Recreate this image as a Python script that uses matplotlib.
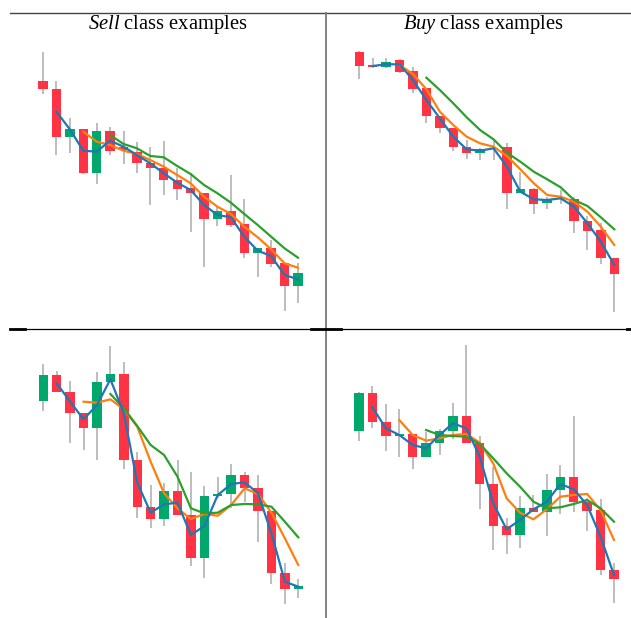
import numpy as np
import matplotlib.pyplot as plt

# ---- candle data (arbitrary price units) ----
# top-left: Sell example 1
s1_open  = [249.3, 241.3, 192.7, 201.0, 156.7, 199.0, 183.0, 178.3, 167.3, 161.7,
            150.0, 141.7, 136.7, 111.0, 119.3, 106.0, 77.3, 81.7, 66.7, 44.3]
s1_high  = [278.3, 249.3, 211.7, 201.0, 207.3, 202.7, 199.0, 188.3, 183.3, 189.3,
            161.7, 156.7, 137.3, 123.3, 155.0, 130.7, 81.7, 90.0, 66.7, 66.7]
s1_low   = [236.0, 175.0, 176.7, 156.0, 146.0, 175.0, 166.0, 156.7, 125.0, 135.0,
            130.0, 98.3, 62.7, 104.0, 103.3, 71.7, 52.7, 63.3, 19.3, 27.3]
s1_close = [240.7, 192.7, 201.0, 156.7, 199.0, 179.3, 180.0, 166.7, 161.7, 150.0,
            141.0, 136.7, 111.0, 119.3, 105.0, 77.3, 81.7, 66.0, 44.3, 56.7]
s1_ma_fast = [218.3, 200.7, 179.3, 178.3, 189.3, 183.3, 175.0, 166.7, 156.7, 147.3,
              140.0, 125.0, 115.0, 112.7, 93.3, 79.3, 74.0, 55.0, 50.7]
s1_ma_mid  = [198.3, 188.3, 185.0, 179.3, 176.0, 170.0, 163.3, 155.0, 146.7, 133.3,
              123.3, 116.0, 103.3, 92.7, 80.7, 66.7, 62.3]
s1_ma_slow = [195.0, 186.0, 181.7, 174.0, 172.7, 164.0, 156.0, 145.0, 136.7, 127.3,
              116.0, 105.0, 93.3, 81.7, 72.3]

# top-right: Buy example 1
b1_open  = [278.3, 264.7, 263.3, 270.0, 259.0, 241.7, 214.3, 201.7, 183.3, 176.7,
            181.0, 182.7, 136.7, 141.0, 126.7, 130.7, 131.0, 109.3, 100.0, 72.3]
b1_high  = [279.0, 272.3, 272.3, 270.7, 263.3, 241.7, 214.3, 201.7, 190.0, 181.7,
            190.0, 186.7, 158.3, 141.7, 132.7, 140.0, 132.7, 114.0, 107.3, 72.3]
b1_low   = [250.7, 261.7, 261.7, 257.3, 236.7, 207.3, 197.3, 179.3, 170.7, 170.0,
            170.0, 120.7, 136.7, 116.0, 120.7, 126.0, 96.7, 80.0, 66.0, 18.3]
b1_close = [264.3, 263.3, 268.3, 258.3, 241.0, 214.0, 201.7, 183.3, 176.7, 181.0,
            182.3, 136.7, 141.0, 126.0, 130.7, 131.3, 109.3, 99.3, 72.3, 56.0]
b1_ma_fast = [264.0, 265.7, 265.7, 250.0, 230.0, 211.7, 193.3, 180.7, 179.3, 181.7,
              163.3, 138.3, 130.7, 130.0, 131.7, 123.3, 106.7, 88.3, 65.0]
b1_ma_mid  = [265.0, 256.0, 240.7, 218.3, 205.0, 193.3, 186.7, 183.3, 174.0, 160.7,
              146.7, 135.0, 133.3, 128.3, 118.3, 103.3, 85.0]
b1_ma_slow = [252.3, 240.0, 226.7, 212.7, 200.0, 190.7, 177.3, 168.3, 158.3, 150.7,
              142.7, 130.0, 124.0, 112.7, 100.7]

# bottom-left: Sell example 2
s2_open  = [229.3, 255.0, 238.3, 217.3, 201.7, 247.7, 256.0, 170.0, 122.7, 111.0,
            139.0, 115.0, 72.3, 134.0, 135.7, 155.0, 141.7, 119.3, 56.7, 40.7]
s2_high  = [266.0, 259.3, 249.0, 217.3, 258.3, 284.0, 268.3, 178.3, 145.0, 146.7,
            170.0, 158.3, 144.3, 153.3, 166.0, 158.3, 155.0, 119.3, 67.3, 50.7]
s2_low   = [219.3, 238.3, 187.3, 180.0, 170.0, 247.7, 161.0, 111.7, 101.7, 104.0,
            115.0, 64.0, 52.3, 131.7, 121.7, 128.3, 88.3, 46.0, 26.0, 31.7]
s2_close = [255.0, 238.3, 217.3, 201.7, 247.7, 256.0, 170.0, 122.7, 111.0, 139.0,
            115.0, 72.3, 134.0, 135.7, 155.0, 141.7, 119.3, 56.7, 40.7, 44.3]
s2_ma_fast = [246.7, 228.3, 210.7, 225.0, 250.7, 216.7, 147.3, 117.3, 125.7, 127.3,
              95.0, 104.0, 135.0, 146.0, 147.7, 136.7, 96.7, 48.3, 43.3]
s2_ma_mid  = [228.3, 227.3, 230.7, 220.7, 203.3, 168.3, 136.7, 121.7, 111.0, 116.0,
              114.3, 125.0, 141.7, 136.0, 117.3, 91.7, 65.0]
s2_ma_slow = [236.0, 221.7, 204.0, 185.0, 175.0, 153.3, 121.7, 116.7, 117.3, 125.0,
              126.0, 125.7, 123.3, 108.3, 92.7]

# bottom-right: Buy example 2
b2_open  = [199.3, 237.3, 208.3, 194.0, 196.0, 173.3, 186.7, 199.3, 214.3, 187.3,
            146.0, 104.3, 95.0, 121.7, 118.3, 140.0, 153.3, 128.3, 120.0, 60.0]
b2_high  = [238.3, 244.0, 226.0, 221.0, 196.0, 198.3, 200.7, 226.7, 285.0, 194.0,
            163.3, 111.7, 134.0, 135.0, 156.0, 165.0, 214.0, 131.7, 130.7, 66.7]
b2_low   = [189.3, 202.3, 179.0, 173.3, 160.7, 173.3, 175.0, 190.7, 187.3, 120.7,
            80.0, 76.0, 82.3, 118.3, 94.0, 116.0, 118.3, 99.0, 55.0, 26.7]
b2_close = [237.3, 207.7, 194.0, 196.0, 173.3, 187.3, 199.3, 214.3, 187.3, 146.0,
            104.3, 95.0, 121.7, 118.3, 140.0, 153.3, 128.3, 119.3, 60.0, 51.0]
b2_ma_fast = [222.7, 201.7, 195.0, 185.0, 181.7, 195.0, 206.7, 201.7, 173.3, 126.7,
              100.7, 110.0, 120.7, 128.3, 146.0, 140.7, 125.0, 93.3, 55.0]
b2_ma_mid  = [210.0, 195.0, 189.3, 191.7, 195.0, 196.0, 187.3, 166.7, 131.7, 117.3,
              110.7, 120.7, 133.3, 135.0, 136.0, 120.0, 90.0]
b2_ma_slow = [200.0, 195.0, 194.0, 193.3, 186.0, 171.7, 156.7, 143.3, 128.3, 121.7,
              122.7, 126.0, 130.0, 121.7, 108.3]

titles = [r"$\mathit{Sell}$ class examples", r"$\mathit{Buy}$ class examples"]

UP = "#00a86b"
DOWN = "#ff3344"
WICK = "#b8b8b8"

plt.rcParams["mathtext.fontset"] = "custom"
plt.rcParams["mathtext.rm"] = "Liberation Serif"
plt.rcParams["mathtext.it"] = "Liberation Serif:italic"

W, H = 631, 618
fig = plt.figure(figsize=(W / 100, H / 100), dpi=100)


def candles(ax, o, h, l, c, ma_fast, ma_mid, ma_slow):
    o, h, l, c = map(np.array, (o, h, l, c))
    x = np.arange(len(o))
    colors = np.where(c >= o, UP, DOWN)
    ax.vlines(x, l, h, color=WICK, lw=1.3, zorder=1)
    bottom = np.minimum(o, c)
    height = np.maximum(np.abs(c - o), 1.2)
    ax.bar(x, height, bottom=bottom, width=0.7, color=colors, zorder=2)
    ax.plot(np.arange(1, 20), ma_fast, color="#1f77b4", lw=1.6, zorder=4)
    ax.plot(np.arange(3, 20), ma_mid, color="#ff7f0e", lw=1.6, zorder=3)
    ax.plot(np.arange(5, 20), ma_slow, color="#2ca02c", lw=1.6, zorder=3)


def add_panel(left_px, first_px, top_px, base, panel):
    # axes covering 281 x 280 px; prices map 1:1 to pixels
    step = 13.42
    ax = fig.add_axes([left_px / W, (H - top_px - 280) / H, 281 / W, 280 / H])
    ax.set_xlim((left_px - first_px) / step, (left_px + 281 - first_px) / step)
    y0 = base - (top_px + 280)
    ax.set_ylim(y0, y0 + 280)
    ax.axis("off")
    candles(ax, *panel)


add_panel(30, 43, 40, 330, (s1_open, s1_high, s1_low, s1_close, s1_ma_fast, s1_ma_mid, s1_ma_slow))
add_panel(346, 359.3, 40, 330, (b1_open, b1_high, b1_low, b1_close, b1_ma_fast, b1_ma_mid, b1_ma_slow))
add_panel(30, 43.3, 335, 630, (s2_open, s2_high, s2_low, s2_close, s2_ma_fast, s2_ma_mid, s2_ma_slow))
add_panel(346, 359, 335, 630, (b2_open, b2_high, b2_low, b2_close, b2_ma_fast, b2_ma_mid, b2_ma_slow))

# table rules
fx = lambda px: px / W
fy = lambda py: (H - py) / H
fig.add_artist(plt.Line2D([fx(10), fx(631)], [fy(13), fy(13)], color="#444444", lw=1.0))
fig.add_artist(plt.Line2D([fx(326), fx(326)], [fy(13), fy(618)], color="#777777", lw=1.3))
fig.add_artist(plt.Line2D([fx(10), fx(631)], [fy(329), fy(329)], color="black", lw=0.9))
for a, b in [(10, 25), (311, 341), (627, 631)]:
    fig.add_artist(plt.Line2D([fx(a), fx(b)], [fy(329), fy(329)], color="black", lw=2.0))

fig.text(fx(168), fy(24), titles[0], family="Liberation Serif", fontsize=14.8,
         ha="center", va="center")
fig.text(fx(483), fy(24), titles[1], family="Liberation Serif", fontsize=14.8,
         ha="center", va="center")

fig.savefig("out.png", dpi=100)
